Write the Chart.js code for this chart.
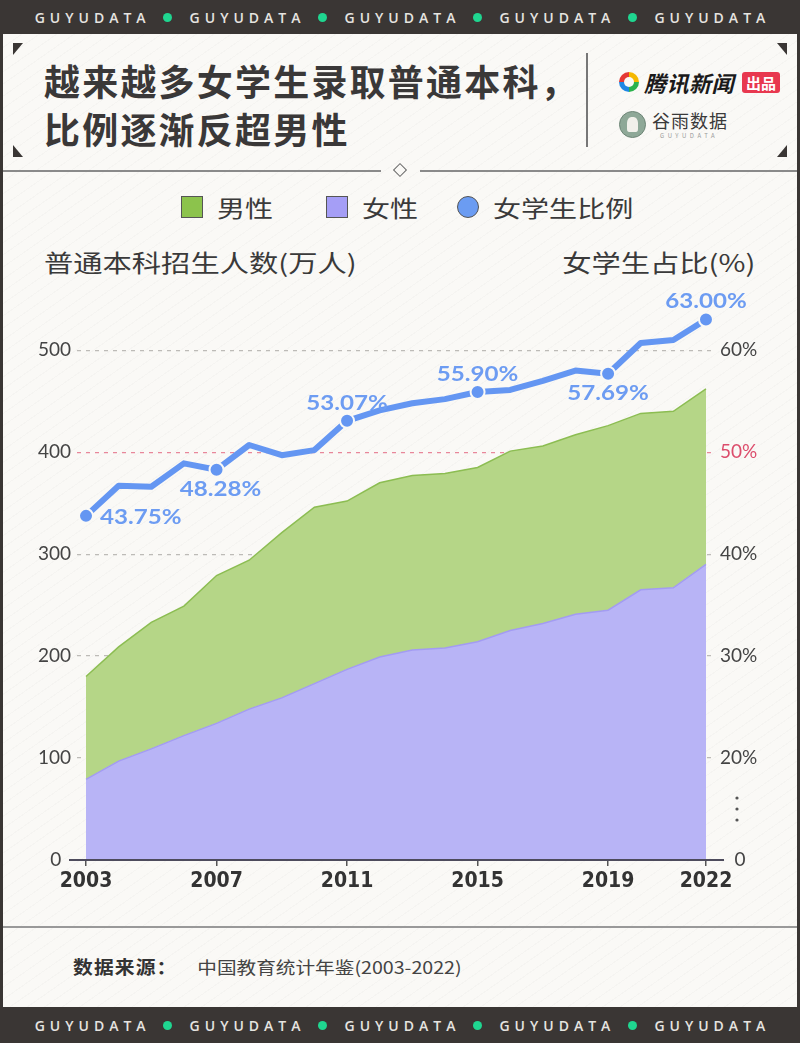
<!DOCTYPE html>
<html>
<head>
<meta charset="utf-8">
<script src="https://cdn.jsdelivr.net/npm/chart.js@4/dist/chart.umd.min.js"></script>
<style>
  body { margin: 0; width: 800px; height: 1043px; overflow: hidden; font-family: "Noto Sans CJK SC", "Noto Sans", sans-serif; }
  #page { position: relative; width: 800px; height: 1043px;
    background: #faf9f6 repeating-linear-gradient(145deg, rgba(0,0,0,0.02) 0 1px, transparent 1px 10px); }
  .band { position: absolute; left: 0; width: 800px; height: 34px; background: #3a3634;
    display: flex; align-items: center; justify-content: center; gap: 17.5px; }
  .band span.t { color: #e6e4e0; font: 600 14px "Open Sans", sans-serif; letter-spacing: 5px; margin-right: -5px; }
  .band span.d { width: 9px; height: 9px; border-radius: 50%; background: #1fd690; display: inline-block; }
  .side { position: absolute; top: 0; width: 3px; height: 1043px; background: #3a3634; }
  .tri { position: absolute; width: 0; height: 0; }
  #title { position: absolute; left: 44px; top: 56px; font-weight: 700; font-size: 36px; line-height: 48px;
    color: #3a3838; letter-spacing: 2.2px; }
  .vsep { position: absolute; left: 586px; top: 53px; width: 1.5px; height: 94px; background: #777; }
  .hline { position: absolute; height: 1.5px; background: #8a8a8a; }
  #legend { position: absolute; top: 192px; left: 0; width: 800px; font-size: 23px; color: #3a3a3a; }
  #legend .it { position: absolute; top: 0; display: flex; align-items: center; height: 30px; }
  #legend .it span { display: inline-block; transform: scaleX(1.22); transform-origin: left center; }
  #legend .sw { width: 20px; height: 20px; border: 1.5px solid #555; margin-right: 14px; }
  .axt { position: absolute; top: 244px; font-size: 24px; color: #3a3a3a; transform: scaleX(1.22); }
  #chartbox { position: absolute; left: 0; top: 280px; }
  #src { position: absolute; top: 953px; left: 73px; font-size: 18px; color: #333; transform: scaleX(1.1); transform-origin: left center; }
  #src span { display: inline-block; transform: scaleX(1.05); transform-origin: left center; }
</style>
</head>
<body>
<div id="page">
  <div class="band" style="top:0">
    <span class="t">GUYUDATA</span><span class="d"></span><span class="t">GUYUDATA</span><span class="d"></span>
    <span class="t">GUYUDATA</span><span class="d"></span><span class="t">GUYUDATA</span><span class="d"></span>
    <span class="t">GUYUDATA</span>
  </div>
  <div class="side" style="left:0"></div>
  <div class="side" style="right:0"></div>

  <div class="tri" style="left:13px;top:43px;border-top:12px solid #3a3634;border-right:10px solid transparent"></div>
  <div class="tri" style="left:777px;top:43px;border-top:12px solid #3a3634;border-left:10px solid transparent"></div>
  <div class="tri" style="left:13px;top:145px;border-bottom:12px solid #3a3634;border-right:10px solid transparent"></div>
  <div class="tri" style="left:777px;top:145px;border-bottom:12px solid #3a3634;border-left:10px solid transparent"></div>

  <div id="title">越来越多女学生录取普通本科，<br>比例逐渐反超男性</div>
  <div class="vsep"></div>

  <!-- logos -->
  <div style="position:absolute;left:619px;top:72px;width:20px;height:20px;border-radius:50%;
    background:conic-gradient(#f5b800 0 25%, #2bb24c 0 50%, #1e88e5 0 75%, #e53935 0);"></div>
  <div style="position:absolute;left:624px;top:77px;width:10px;height:10px;border-radius:50%;background:#faf9f6"></div>
  <div style="position:absolute;left:644px;top:66px;font-size:22px;font-weight:700;font-style:italic;color:#1a1a1a;letter-spacing:0.5px">腾讯新闻</div>
  <div style="position:absolute;left:742px;top:72px;width:38px;height:21px;background:#e8384f;border-radius:3px;
    color:#fff;font-size:15px;font-weight:700;line-height:21px;text-align:center">出品</div>
  <div style="position:absolute;left:619px;top:111px;width:27px;height:27px;border-radius:50%;background:#8ea897;
    border:1px solid #6d8576;box-sizing:border-box"></div>
  <div style="position:absolute;left:627px;top:117px;width:11px;height:15px;border-radius:40% 40% 20% 20%;background:#f1f0ea"></div>
  <div style="position:absolute;left:652px;top:107px;font-size:18px;color:#3a3a3a;letter-spacing:1px">谷雨数据</div>
  <div style="position:absolute;left:660px;top:131px;font-size:6px;color:#999;letter-spacing:3.5px">GUYUDATA</div>

  <div class="hline" style="left:3px;top:170px;width:378px"></div>
  <div class="hline" style="left:420px;top:170px;width:377px"></div>
  <div style="position:absolute;left:395px;top:165px;width:8px;height:8px;border:1.5px solid #666;transform:rotate(45deg);background:#faf9f6"></div>

  <div id="legend">
    <div class="it" style="left:181px"><div class="sw" style="background:#8cc34c"></div><span>男性</span></div>
    <div class="it" style="left:326px"><div class="sw" style="background:#a59ef6"></div><span>女性</span></div>
    <div class="it" style="left:457px"><div class="sw" style="background:#6b9cf2;border-radius:50%"></div><span>女学生比例</span></div>
  </div>
  <div class="axt" style="left:44px;transform-origin:left center">普通本科招生人数(万人)</div>
  <div class="axt" style="right:45px;transform-origin:right center">女学生占比(%)</div>

  <div id="chartbox"><canvas id="c" width="800" height="620"></canvas></div>

  <div class="hline" style="left:3px;top:926px;width:794px;background:#999"></div>
  <div id="src"><b style="letter-spacing:1px">数据来源：</b><span style="margin-left:18px;font-size:17px;color:#444;font-family:'Liberation Sans Narrow','Noto Sans CJK SC',sans-serif">中国教育统计年鉴(2003-2022)</span></div>

  <div class="band" style="top:1007px;height:36px">
    <span class="t">GUYUDATA</span><span class="d"></span><span class="t">GUYUDATA</span><span class="d"></span>
    <span class="t">GUYUDATA</span><span class="d"></span><span class="t">GUYUDATA</span><span class="d"></span>
    <span class="t">GUYUDATA</span>
  </div>
</div>

<script>
// values (万人 / %)
const years = [2003, 2004, 2005, 2006, 2007, 2008, 2009, 2010, 2011, 2012,
               2013, 2014, 2015, 2016, 2017, 2018, 2019, 2020, 2021, 2022];
const female = [79, 97, 109, 122, 134, 148, 159, 173, 187, 199,
                206, 208, 214, 225, 232, 241, 245, 265, 267, 290];
const male = [101, 112, 124, 127, 145, 146, 162, 173, 165, 171,
              171, 171, 171, 176, 174, 176, 181, 173, 173, 172];
const femaleRatio = [43.75, 46.7, 46.6, 48.9, 48.28, 50.7, 49.7, 50.2, 53.07, 54.1,
                     54.8, 55.2, 55.90, 56.1, 57.0, 58.0, 57.69, 60.7, 61.0, 63.00];
const yearTicks = [2003, 2007, 2011, 2015, 2019, 2022];
const countTicks = [0, 100, 200, 300, 400, 500];
const ratioTicks = [10, 15, 20, 30, 40, 50, 60];   // 10 is shown as the broken-axis "0"
const markedYears = [2003, 2007, 2011, 2015, 2019, 2022];

const BLUE = "#6496f2";
const toXY = arr => arr.map((v, i) => ({ x: years[i], y: v }));
const markedIdx = markedYears.map(y => years.indexOf(y));

function noPad(s) { s.paddingTop = 0; s.paddingBottom = 0; s.paddingLeft = 0; s.paddingRight = 0; }

// point labels + baseline + axis break dots
const extras = {
  id: "extras",
  afterDatasetsDraw(chart) {
    const ctx = chart.ctx;
    const { y2 } = chart.scales;
    const area = chart.chartArea;
    ctx.save();
    // baseline
    ctx.strokeStyle = "#4d4b5c";
    ctx.lineWidth = 2;
    ctx.beginPath();
    ctx.moveTo(area.left - 8, area.bottom);
    ctx.lineTo(area.right + 11, area.bottom);
    ctx.stroke();
    // axis break dots
    ctx.fillStyle = "#555";
    const bx = area.right + 24, by = y2.getPixelForValue(15);
    [-11, 0, 11].forEach(d => { ctx.beginPath(); ctx.arc(bx, by + d, 1.6, 0, Math.PI * 2); ctx.fill(); });
    // labels
    const meta = chart.getDatasetMeta(2);
    ctx.font = "bold 21px Lato, 'Open Sans', sans-serif";
    ctx.fillStyle = "#6d9cf2";
    ctx.textBaseline = "middle";
    const place = ["right", "below", "above", "above", "below", "above"];
    markedIdx.forEach((i, k) => {
      const p = meta.data[i];
      const txt = femaleRatio[i].toFixed(2) + "%";
      let tx, ty;
      if (place[k] === "right") { ctx.textAlign = "left"; tx = p.x + 14; ty = p.y + 1; }
      else { ctx.textAlign = "center"; tx = p.x + (k === 1 ? 4 : 0); ty = p.y + (place[k] === "above" ? -18 : 20); }
      ctx.save();
      ctx.translate(tx, ty);
      ctx.scale(1.15, 1);
      ctx.fillText(txt, 0, 0);
      ctx.restore();
    });
    ctx.restore();
  }
};

new Chart(document.getElementById("c"), {
  type: "line",
  data: {
    datasets: [
      { label: "女性", data: toXY(female), yAxisID: "y", stack: "n", fill: "origin", order: 1,
        backgroundColor: "#b8b4f6", borderColor: "#a39cf2", borderWidth: 1.5, pointRadius: 0, tension: 0 },
      { label: "男性", data: toXY(male), yAxisID: "y", stack: "n", fill: "-1", order: 2,
        backgroundColor: "#b5d687", borderColor: "#8cbd52", borderWidth: 1.5, pointRadius: 0, tension: 0 },
      { label: "女学生比例", data: toXY(femaleRatio), yAxisID: "y2", fill: false, order: 0,
        borderColor: BLUE, borderWidth: 6, tension: 0, borderJoinStyle: "round",
        pointRadius: years.map((_, i) => markedIdx.includes(i) ? 7 : 0),
        pointBackgroundColor: BLUE, pointBorderColor: "#faf9f6", pointBorderWidth: 2 }
    ]
  },
  options: {
    responsive: false,
    animation: false,
    layout: { padding: { top: 8, left: 0, right: 0, bottom: 0 } },
    plugins: { legend: { display: false }, tooltip: { enabled: false } },
    scales: {
      x: {
        type: "linear", min: 2002.724, max: 2022.215,
        afterBuildTicks: s => { s.ticks = yearTicks.map(v => ({ value: v })); },
        afterFit: s => { s.height = 40; noPad(s); },
        grid: { display: true, drawOnChartArea: false, drawTicks: true, tickLength: 6, color: "#555", lineWidth: 1.5 },
        border: { display: false },
        ticks: { padding: 3, color: "#333", maxRotation: 0,
          font: { family: "'Liberation Sans Narrow', 'DejaVu Sans Condensed', sans-serif", size: 21, weight: "bold" },
          callback: v => String(v) }
      },
      y: {
        position: "left", stacked: true, min: 0, max: 560,
        afterBuildTicks: s => { s.ticks = countTicks.map(v => ({ value: v })); },
        afterFit: s => { s.width = 77; noPad(s); },
        border: { display: false, dash: [4, 5] },
        grid: { drawTicks: false, lineWidth: 1.2,
          color: c => c.tick.value === 0 ? "rgba(0,0,0,0)" : (c.tick.value === 400 ? "#e8879a" : "#bdbbb7") },
        ticks: { padding: 6, color: "#444", font: { family: "Lato, sans-serif", size: 19 },
          callback: v => v === 0 ? "0  " : String(v) }
      },
      y2: {
        position: "right", min: 10, max: 66,
        afterBuildTicks: s => { s.ticks = ratioTicks.map(v => ({ value: v })); },
        afterFit: s => { s.width = 87; noPad(s); },
        border: { display: false },
        grid: { display: false, drawTicks: false },
        ticks: { padding: 7, font: { family: "Lato, sans-serif", size: 19 },
          color: c => c.tick.value === 50 ? "#dc4d6c" : "#444",
          callback: v => v === 10 ? "   0" : (v === 15 ? "" : v + "%") }
      }
    }
  },
  plugins: [extras]
});
</script>
</body>
</html>
